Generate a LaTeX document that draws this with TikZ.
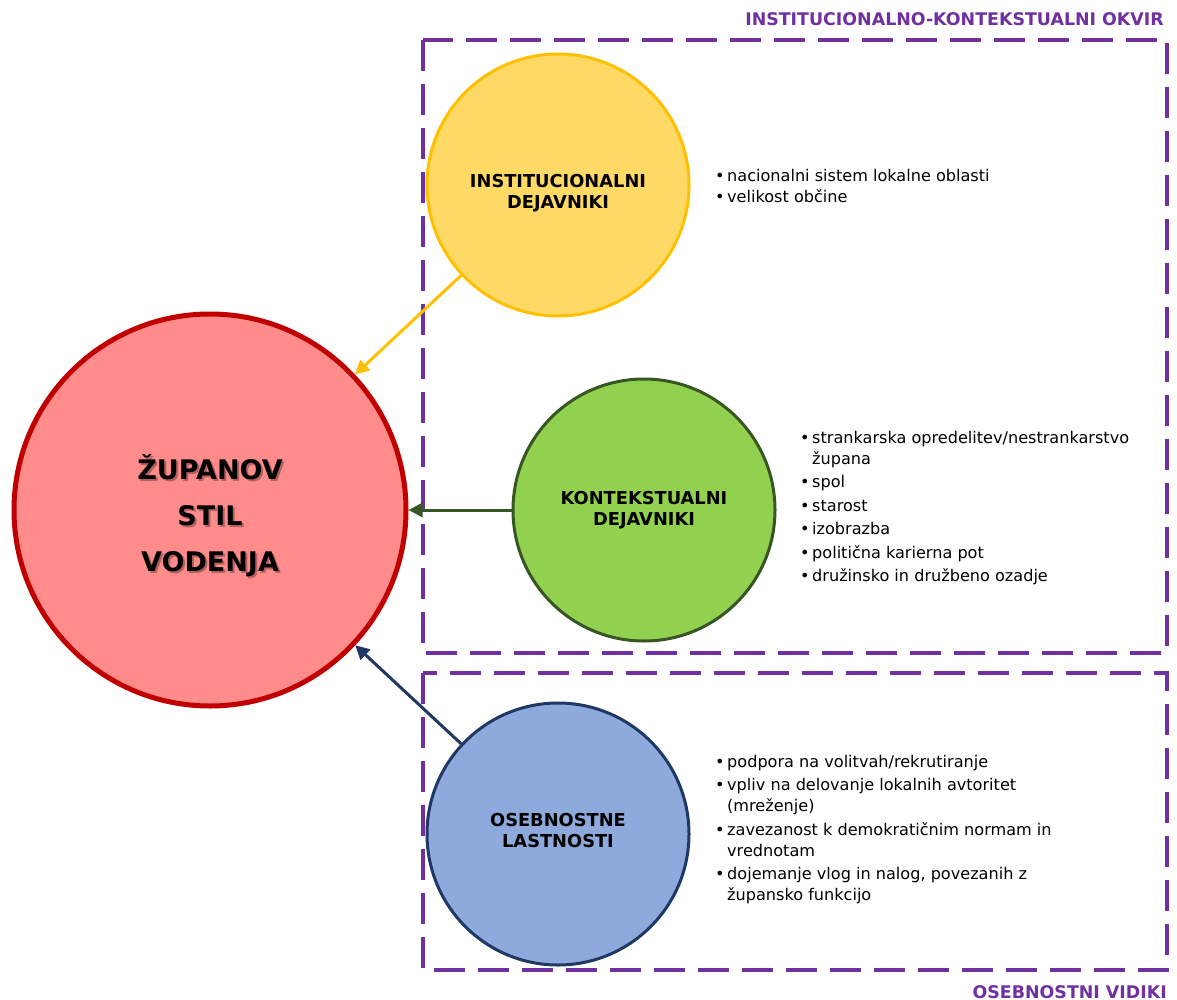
\documentclass[tikz,border=0pt]{standalone}
\usepackage{fontspec}
\setmainfont{DejaVu Sans}
\usetikzlibrary{arrows.meta}
\definecolor{frame}{HTML}{7030A0}
\definecolor{redfill}{HTML}{FF8B8B}
\definecolor{redline}{HTML}{C00000}
\definecolor{yelfill}{HTML}{FFD966}
\definecolor{yelline}{HTML}{FFC000}
\definecolor{grnfill}{HTML}{92D050}
\definecolor{grnline}{HTML}{375623}
\definecolor{blufill}{HTML}{8EA9DB}
\definecolor{bluline}{HTML}{1F3864}
\tikzset{
  factor/.style={circle, line width=3pt, minimum size=262pt, inner sep=0pt},
  factorlabel/.style={align=center, inner sep=0pt, font=\bfseries\fontsize{17.8}{21}\selectfont},
  framebox/.style={draw=frame, line width=3.5pt, dash pattern=on 31pt off 13pt},
  frametitle/.style={text=frame, font=\bfseries\fontsize{17.4}{19}\selectfont, inner sep=0pt},
  influence/.style={line width=3pt, -{Triangle[length=14pt,width=14pt]}},
  biglabel/.style={align=center, font=\bfseries\fontsize{27}{46}\selectfont},
  itemlist/.style={anchor=north west, inner sep=0pt, align=left,
    font=\fontsize{16.1}{21}\selectfont},
}
\newcommand{\itm}{\makebox[12pt][l]{\textbullet}}
\begin{document}
\begin{tikzpicture}[x=1pt,y=-1pt]
\useasboundingbox (0,0) rectangle (1177,1000);
\fill[white] (0,0) rectangle (1177,1000);

% framing boxes
\draw[framebox] (423,40) rectangle (1167,653);
\draw[framebox] (423,673) rectangle (1167,970);
\node[frametitle, anchor=base east] (t1) at (1164,26) {INSTITUCIONALNO-KONTEKSTUALNI OKVIR};
\node[frametitle, anchor=base east] (t2) at (1167,998) {OSEBNOSTNI VIDIKI};

% central circle with shadowed title
\node[circle, draw=redline, fill=redfill, line width=5pt, minimum size=392pt, inner sep=0pt] (main) at (210,510) {};
\node[biglabel, text=black, opacity=0.3] (mainshadow) at (212,518) {ŽUPANOV\\STIL\\VODENJA};
\node[biglabel] (mainlabel) at (210,516) {ŽUPANOV\\STIL\\VODENJA};

% factor circles
\node[factor, draw=yelline, fill=yelfill] (inst) at (558,185) {};
\node[factor, draw=grnline, fill=grnfill] (kont) at (644,510) {};
\node[factor, draw=bluline, fill=blufill] (oseb) at (558,834) {};
\node[factorlabel] (instlabel) at (558,193) {INSTITUCIONALNI\\DEJAVNIKI};
\node[factorlabel] (kontlabel) at (644,510) {KONTEKSTUALNI\\DEJAVNIKI};
\node[factorlabel] (oseblabel) at (558,831) {OSEBNOSTNE\\LASTNOSTI};

% influences
\draw[influence, yelline] (inst) -- (main);
\draw[influence, grnline] (kont) -- (main);
\draw[influence, bluline] (oseb) -- (main);

% item lists
\node[itemlist] (l1) at (715,169) {\itm nacionalni sistem lokalne oblasti\\
\itm velikost občine};
\node[itemlist] (l2) at (800,431) {\itm strankarska opredelitev/nestrankarstvo\\
\hspace*{12pt}župana\\[2.5pt]
\itm spol\\[2.5pt]
\itm starost\\[2.5pt]
\itm izobrazba\\[2.5pt]
\itm politična karierna pot\\[2.5pt]
\itm družinsko in družbeno ozadje};
\node[itemlist] (l3) at (715,755) {\itm podpora na volitvah/rekrutiranje\\[2.5pt]
\itm vpliv na delovanje lokalnih avtoritet\\
\hspace*{12pt}(mreženje)\\[2.5pt]
\itm zavezanost k demokratičnim normam in\\
\hspace*{12pt}vrednotam\\[2.5pt]
\itm dojemanje vlog in nalog, povezanih z\\
\hspace*{12pt}župansko funkcijo};
\end{tikzpicture}
\end{document}
